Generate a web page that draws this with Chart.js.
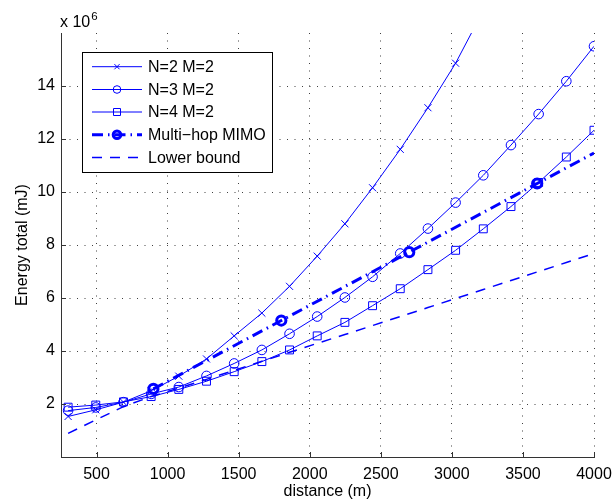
<!DOCTYPE html>
<html><head><meta charset="utf-8">
<script src="https://cdn.jsdelivr.net/npm/chart.js@4.4.1/dist/chart.umd.min.js"></script>
<style>html,body{margin:0;padding:0;background:#fff}canvas{display:block}</style>
</head><body>
<canvas id="c" width="612" height="500"></canvas>
<script>
// ---- data (energy in units of 10^6 mJ) ----
const distances = [300, 494.7, 689.5, 884.2, 1078.9, 1273.7, 1468.4, 1663.2, 1857.9, 2052.6,
                   2247.4, 2442.1, 2636.8, 2831.6, 3026.3, 3221.1, 3415.8, 3610.5, 3805.3, 4000];
const n2m2 = [1.53, 1.78, 2.07, 2.5, 3.05, 3.7, 4.57, 5.43, 6.44, 7.58, 8.8, 10.16, 11.61, 13.18, 14.86, 16.85];
const n3m2 = [1.75, 1.87, 2.07, 2.38, 2.64, 3.06, 3.53, 4.04, 4.65, 5.3, 6.02, 6.8, 7.68, 8.62, 9.6, 10.63, 11.77, 12.94, 14.18, 15.5];
const n4m2 = [1.88, 1.96, 2.08, 2.28, 2.55, 2.86, 3.22, 3.6, 4.04, 4.57, 5.08, 5.71, 6.35, 7.07, 7.8, 8.61, 9.45, 10.36, 11.32, 12.33];
const hopDistances = [900, 1800, 2700, 3600, 4000];
const multiHop = [2.57, 5.15, 7.73, 10.32, 11.47];
const lowerBound = [0.89, 1.4, 1.9, 2.28, 2.6, 2.93, 3.27, 3.61, 3.95, 4.29, 4.62, 4.96, 5.3, 5.64, 5.98, 6.32, 6.66, 7.0, 7.34, 7.68];
const seriesLabels = ['N=2 M=2', 'N=3 M=2', 'N=4 M=2', 'Multi\u2212hop MIMO', 'Lower bound'];
const xTicks = [500, 1000, 1500, 2000, 2500, 3000, 3500, 4000];
const yTicks = [2, 4, 6, 8, 10, 12, 14];

const FONT = '"Liberation Sans", Arial, Helvetica, sans-serif';
const BLUE = '#0000ff';
const CLEAR = 'rgba(0,0,0,0)';
function pts(xs, ys) { return ys.map((y, i) => ({ x: xs[i], y: y })); }

const styles = [
  { pointStyle: 'crossRot', pointRadius: 5, borderWidth: 1, pointBorderWidth: 1, borderDash: [] },
  { pointStyle: 'circle', pointRadius: 4.8, borderWidth: 1, pointBorderWidth: 1, borderDash: [] },
  { pointStyle: 'rect', pointRadius: 5.6, borderWidth: 1, pointBorderWidth: 1, borderDash: [] },
  { pointStyle: 'circle', pointRadius: [4.6, 4.6, 4.6, 4.6, 0], borderWidth: 3, pointBorderWidth: 3, borderDash: [11, 5, 1.5, 5] },
  { pointStyle: 'circle', pointRadius: 0, borderWidth: 1.5, pointBorderWidth: 0, borderDash: [10, 8] }
];
const dataSets = [pts(distances, n2m2), pts(distances, n3m2), pts(distances, n4m2), pts(hopDistances, multiHop), pts(distances, lowerBound)];

const datasets = dataSets.map((d, i) => Object.assign({
  label: seriesLabels[i], data: d, borderColor: BLUE, pointBorderColor: BLUE,
  pointBackgroundColor: CLEAR, backgroundColor: CLEAR, fill: false, tension: 0,
  borderCapStyle: 'butt', pointHoverRadius: 0
}, styles[i]));

const inwardTicks = {
  id: 'inwardTicks',
  afterDatasetsDraw(chart) {
    const { ctx, chartArea: a, scales: { x, y } } = chart;
    ctx.save();
    ctx.strokeStyle = '#333'; ctx.lineWidth = 1;
    ctx.beginPath();
    xTicks.forEach(v => { const p = Math.round(x.getPixelForValue(v)) + 0.5; ctx.moveTo(p, a.bottom); ctx.lineTo(p, a.bottom - 5); });
    yTicks.forEach(v => { const p = Math.round(y.getPixelForValue(v)) + 0.5; ctx.moveTo(a.left, p); ctx.lineTo(a.left + 5, p); });
    ctx.stroke();
    // exponent label
    ctx.fillStyle = '#000';
    ctx.textBaseline = 'alphabetic'; ctx.textAlign = 'left';
    ctx.font = '16px ' + FONT;
    ctx.fillText('x 10', 60, 27);
    const w = ctx.measureText('x 10').width;
    ctx.font = '11.5px ' + FONT;
    ctx.fillText('6', 60 + w + 1, 20);
    ctx.restore();
  }
};

function drawMarker(ctx, kind, x, y) {
  ctx.beginPath();
  if (kind === 0) { const r = 2.6; ctx.moveTo(x - r, y - r); ctx.lineTo(x + r, y + r); ctx.moveTo(x + r, y - r); ctx.lineTo(x - r, y + r); ctx.lineWidth = 1; ctx.stroke(); }
  else if (kind === 1) { ctx.arc(x, y, 3.8, 0, Math.PI * 2); ctx.lineWidth = 1; ctx.stroke(); }
  else if (kind === 2) { ctx.rect(x - 3.5, y - 3.5, 7, 7); ctx.lineWidth = 1; ctx.stroke(); }
  else if (kind === 3) { ctx.arc(x, y, 3.8, 0, Math.PI * 2); ctx.lineWidth = 3; ctx.stroke(); }
}

const boxLegend = {
  id: 'boxLegend',
  afterDraw(chart) {
    const ctx = chart.ctx;
    const L = 82.5, T = 52.5, W = 190, H = 120;
    ctx.save();
    ctx.fillStyle = '#fff'; ctx.fillRect(L, T, W, H);
    ctx.strokeStyle = '#000'; ctx.lineWidth = 1; ctx.strokeRect(L, T, W, H);
    const rows = [66.7, 89.5, 112, 134.8, 157.5];
    chart.data.datasets.forEach((ds, i) => {
      const yy = rows[i];
      ctx.strokeStyle = BLUE;
      ctx.lineWidth = ds.borderWidth;
      ctx.lineCap = 'butt';
      ctx.setLineDash(ds.borderDash || []);
      ctx.beginPath(); ctx.moveTo(92, yy); ctx.lineTo(142, yy); ctx.stroke();
      ctx.setLineDash([]);
      drawMarker(ctx, i, 117, yy);
      ctx.fillStyle = '#000';
      ctx.font = '16px ' + FONT;
      ctx.textBaseline = 'middle'; ctx.textAlign = 'left';
      ctx.fillText(ds.label, 148, yy + 1);
    });
    ctx.restore();
  }
};

new Chart(document.getElementById('c'), {
  type: 'line',
  data: { datasets: datasets },
  options: {
    responsive: false, animation: false, devicePixelRatio: 1,
    events: [],
    layout: { padding: { top: 33, right: 18, left: 0, bottom: 0 } },
    plugins: { legend: { display: false }, tooltip: { enabled: false } },
    scales: {
      x: {
        type: 'linear', min: 250, max: 4000,
        afterBuildTicks: s => { s.ticks = xTicks.map(v => ({ value: v })); },
        afterFit: s => { s.height = 43; s.paddingLeft = 0; s.paddingRight = 0; },
        ticks: { font: { family: FONT, size: 16 }, color: '#000', padding: 8, maxRotation: 0, autoSkip: false, callback: v => String(v) },
        grid: { color: 'rgba(0,0,0,0.75)', lineWidth: 1, drawTicks: false },
        border: { display: true, color: '#333', width: 1, dash: [1, 6.5] },
        title: { display: true, text: 'distance (m)', color: '#000', font: { family: FONT, size: 16, lineHeight: 1 }, padding: { top: 0, bottom: 0 } }
      },
      y: {
        type: 'linear', min: 0, max: 16,
        afterBuildTicks: s => { s.ticks = yTicks.map(v => ({ value: v })); },
        afterFit: s => { s.width = 61; s.paddingTop = 0; s.paddingBottom = 0; },
        ticks: { font: { family: FONT, size: 16 }, color: '#000', padding: 6, autoSkip: false, callback: v => String(v) },
        grid: { color: 'rgba(0,0,0,0.75)', lineWidth: 1, drawTicks: false },
        border: { display: true, color: '#333', width: 1, dash: [1, 6.5] },
        title: { display: true, text: 'Energy total (mJ)', color: '#000', font: { family: FONT, size: 16, lineHeight: 1 }, padding: { top: 15, bottom: 0 } }
      }
    }
  },
  plugins: [inwardTicks, boxLegend]
});
</script>
</body></html>
